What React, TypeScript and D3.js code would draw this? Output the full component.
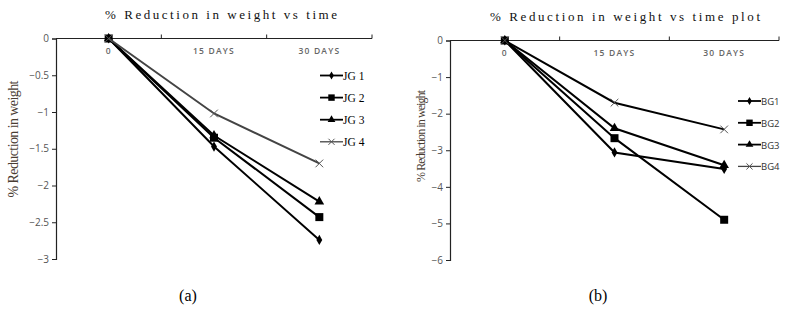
import React, { useRef, useEffect } from 'react';
import * as d3 from 'd3';

const categories = ['0', '15 DAYS', '30 DAYS'];

const seriesA = ['JG 1', 'JG 2', 'JG 3', 'JG 4'];
const valuesA = [
  [0, -1.47, -2.74],
  [0, -1.35, -2.43],
  [0, -1.32, -2.22],
  [0, -1.02, -1.7],
];
const ticksA = [0, -0.5, -1, -1.5, -2, -2.5, -3];

const seriesB = ['BG1', 'BG2', 'BG3', 'BG4'];
const valuesB = [
  [0, -3.06, -3.51],
  [0, -2.67, -4.9],
  [0, -2.4, -3.41],
  [0, -1.7, -2.43],
];
const ticksB = [0, -1, -2, -3, -4, -5, -6];

const markerTypes = [d3.symbolDiamond, d3.symbolSquare, d3.symbolTriangle, d3.symbolX];
const markerSizes = [30, 64, 40, 40];

const drawPanel = (svg, cfg) => {
  const g = svg.append('g');
  const x = d3.scaleBand().domain(categories).range([cfg.left, cfg.right]);
  const y = d3.scaleLinear().domain([cfg.ticks[cfg.ticks.length - 1], 0]).range([cfg.bottom, cfg.top]);

  // left axis
  const yAxis = g.append('g')
    .attr('transform', `translate(${cfg.left},0)`)
    .call(d3.axisLeft(y).tickValues(cfg.ticks).tickSize(4).tickPadding(3).tickFormat(d3.format('')));
  yAxis.select('.domain').attr('stroke', '#222').attr('stroke-width', 1.2);
  yAxis.selectAll('line').attr('stroke', '#222');
  yAxis.selectAll('text')
    .attr('fill', '#555')
    .style('font-family', '"Open Sans", sans-serif')
    .style('font-size', '10px');

  // top category axis (line at y=0, ticks at band edges, labels below)
  g.append('line')
    .attr('x1', cfg.left).attr('x2', cfg.right)
    .attr('y1', y(0)).attr('y2', y(0))
    .attr('stroke', '#222').attr('stroke-width', 1.2);
  categories.forEach((c) => {
    g.append('line')
      .attr('x1', x(c) + x.bandwidth()).attr('x2', x(c) + x.bandwidth())
      .attr('y1', y(0) - 4).attr('y2', y(0))
      .attr('stroke', '#222');
    g.append('text')
      .attr('x', x(c) + x.bandwidth() / 2)
      .attr('y', y(0) + cfg.labelDy)
      .attr('text-anchor', 'middle')
      .attr('fill', '#666')
      .style('font-family', '"Open Sans", sans-serif')
      .style('font-size', '8.5px')
      .style('font-weight', '600')
      .style('letter-spacing', '1.2px')
      .text(c);
  });

  // lines and markers
  const line = d3.line()
    .x((d, i) => x(categories[i]) + x.bandwidth() / 2)
    .y((d) => y(d));
  cfg.values.forEach((vals, si) => {
    const col = cfg.grayLast && si === 3 ? '#444' : '#000';
    g.append('path')
      .attr('d', line(vals))
      .attr('fill', 'none')
      .attr('stroke', col)
      .attr('stroke-width', 2);
    vals.forEach((v, i) => {
      const isX = si === 3;
      g.append('path')
        .attr('d', d3.symbol().type(markerTypes[si]).size(markerSizes[si])())
        .attr('transform', `translate(${x(categories[i]) + x.bandwidth() / 2},${y(v)})`)
        .attr('fill', isX ? 'none' : '#000')
        .attr('stroke', isX ? '#555' : 'none')
        .attr('stroke-width', 1);
    });
  });

  // legend
  cfg.series.forEach((s, si) => {
    const ly = cfg.legendY + si * cfg.legendStep;
    const col = cfg.grayLast && si === 3 ? '#444' : '#000';
    g.append('line')
      .attr('x1', cfg.legendX).attr('x2', cfg.legendX + 23)
      .attr('y1', ly).attr('y2', ly)
      .attr('stroke', si === 3 ? '#444' : col).attr('stroke-width', si === 3 ? 1.3 : 1.8);
    g.append('path')
      .attr('d', d3.symbol().type(markerTypes[si]).size(markerSizes[si] * 0.65)())
      .attr('transform', `translate(${cfg.legendX + 11.5},${ly})`)
      .attr('fill', si === 3 ? 'none' : '#000')
      .attr('stroke', si === 3 ? '#555' : 'none');
    g.append('text')
      .attr('x', cfg.legendX + 23)
      .attr('y', ly + 4)
      .attr('fill', cfg.legendColor)
      .style('font-family', cfg.legendFont)
      .style('font-size', cfg.legendSize)
      .text(s);
  });

  // title
  g.append('text')
    .attr('x', cfg.titleX)
    .attr('y', cfg.titleY)
    .attr('text-anchor', 'middle')
    .attr('textLength', cfg.titleLen)
    .attr('lengthAdjust', 'spacing')
    .attr('fill', '#111')
    .style('font-family', '"Liberation Serif", serif')
    .style('font-size', '13px')
    .text(cfg.title);

  // y title
  g.append('text')
    .attr('transform', `translate(${cfg.yTitleX},${cfg.yTitleY}) rotate(-90)`)
    .attr('text-anchor', 'middle')
    .attr('textLength', cfg.yTitleLen)
    .attr('lengthAdjust', 'spacing')
    .attr('fill', '#4a3d33')
    .style('font-family', '"Liberation Serif", serif')
    .style('font-size', cfg.yTitleSize)
    .text('% Reduction in weight');

  // caption
  g.append('text')
    .attr('x', cfg.capX)
    .attr('y', 301)
    .attr('text-anchor', 'middle')
    .attr('fill', '#000')
    .style('font-family', '"Liberation Serif", serif')
    .style('font-size', '16px')
    .text(cfg.caption);
};

const App = () => {
  const ref = useRef(null);

  useEffect(() => {
    const svg = d3.select(ref.current);
    svg.selectAll('*').remove();
    svg.append('rect').attr('width', 797).attr('height', 313).attr('fill', '#fff');
    drawPanel(svg, {
      left: 56, right: 372, top: 38.5, bottom: 259,
      ticks: ticksA, values: valuesA, series: seriesA, grayLast: true,
      labelDy: 15,
      legendX: 320, legendY: 75.5, legendStep: 22.1,
      legendFont: '"Liberation Serif", serif', legendSize: '11.5px', legendColor: '#000',
      title: '% Reduction in weight vs time', titleX: 221, titleY: 19, titleLen: 232,
      yTitleX: 18, yTitleY: 139, yTitleLen: 117, yTitleSize: '14px',
      caption: '(a)', capX: 188,
    });
    drawPanel(svg, {
      left: 450, right: 779, top: 40.5, bottom: 260,
      ticks: ticksB, values: valuesB, series: seriesB, grayLast: false,
      labelDy: 15,
      legendX: 738, legendY: 101, legendStep: 21.8,
      legendFont: '"Open Sans", sans-serif', legendSize: '9.5px', legendColor: '#333',
      title: '% Reduction in weight vs time plot', titleX: 625, titleY: 21, titleLen: 270,
      yTitleX: 425, yTitleY: 136, yTitleLen: 92, yTitleSize: '12px',
      caption: '(b)', capX: 598,
    });
  }, []);

  return (
    <svg ref={ref} width="797" height="313" style={{ position: 'absolute', left: 0, top: 0 }}></svg>
  );
};

export default App;
